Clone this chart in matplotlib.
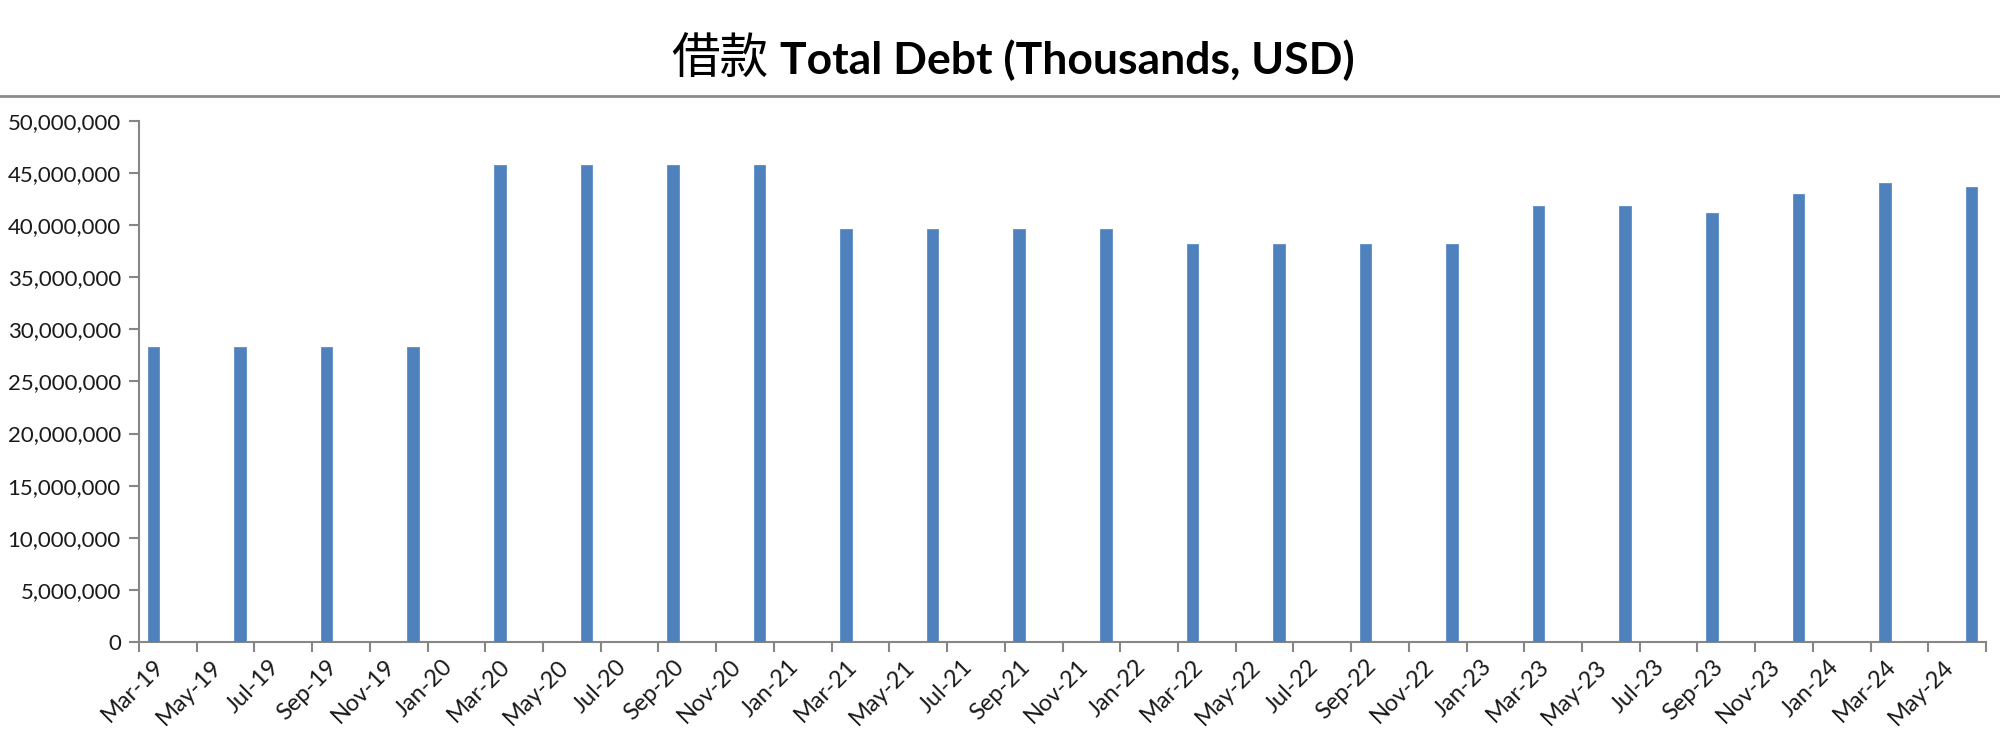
import matplotlib
matplotlib.use('Agg')
import matplotlib.pyplot as plt
from matplotlib.lines import Line2D
import pandas as pd

# quarter-end dates and total debt (thousands USD)
quarters = ['2019-03', '2019-06', '2019-09', '2019-12',
            '2020-03', '2020-06', '2020-09', '2020-12',
            '2021-03', '2021-06', '2021-09', '2021-12',
            '2022-03', '2022-06', '2022-09', '2022-12',
            '2023-03', '2023-06', '2023-09', '2023-12',
            '2024-03', '2024-06']
total_debt = [28350000, 28350000, 28350000, 28350000,
              45750000, 45750000, 45750000, 45750000,
              39600000, 39600000, 39600000, 39600000,
              38200000, 38200000, 38200000, 38200000,
              41800000, 41800000, 41150000, 43000000,
              44000000, 43700000]
y_ticks = [0, 5000000, 10000000, 15000000, 20000000, 25000000,
           30000000, 35000000, 40000000, 45000000, 50000000]

start = pd.Period('2019-03', freq='M')
end = pd.Period('2024-06', freq='M')
x = [(pd.Period(q, freq='M') - start).n for q in quarters]
n_months = (end - start).n + 1

label_months = pd.period_range(start, end, freq='M')[::2]
label_pos = [(p - start).n for p in label_months]
label_text = [p.strftime('%b-%y') for p in label_months]
boundaries = [i - 0.5 for i in range(0, n_months + 1, 2)]

fig = plt.figure(figsize=(20, 7.39), dpi=100)
ax = fig.add_axes([0.0695, 0.1313, 0.9235, 0.705])

ax.bar(x, total_debt, width=0.4, color='#4F81BD', edgecolor='#5b8cc6', linewidth=0.6, zorder=3)

ax.set_xlim(-0.5, n_months - 0.5)
ax.set_ylim(0, 50000000)
ax.set_yticks(y_ticks)
ax.set_yticklabels(['{:,}'.format(v) for v in y_ticks], family='Lato', fontsize=16, color='#1a1a1a')

ax.set_xticks(label_pos)
ax.set_xticklabels(label_text, rotation=45, ha='right', va='top', rotation_mode='anchor',
                   family='Lato', fontsize=17, color='#1a1a1a')
ax.set_xticks(boundaries, minor=True)
ax.tick_params(axis='x', which='major', length=0, pad=10)
ax.tick_params(axis='x', which='minor', length=7, width=1.5, color='#868686', direction='out')
ax.tick_params(axis='y', length=7, width=1.5, color='#868686', direction='out', pad=6)

for side in ['top', 'right']:
    ax.spines[side].set_visible(False)
for side in ['left', 'bottom']:
    ax.spines[side].set_color('#868686')
    ax.spines[side].set_linewidth(1.5)

# title: Chinese part + bold latin part
fig.text(0.384, 0.9, '借款', family='Noto Sans CJK SC', fontsize=35, ha='right', va='baseline', color='black')
fig.text(0.39, 0.9, 'Total Debt (Thousands, USD)', family='Lato', fontweight='bold', fontsize=32,
         ha='left', va='baseline', color='black')

fig.add_artist(Line2D([0, 1], [0.870, 0.870], transform=fig.transFigure, color='#8c8c8c', linewidth=2))

fig.savefig('out.png', dpi=100)
